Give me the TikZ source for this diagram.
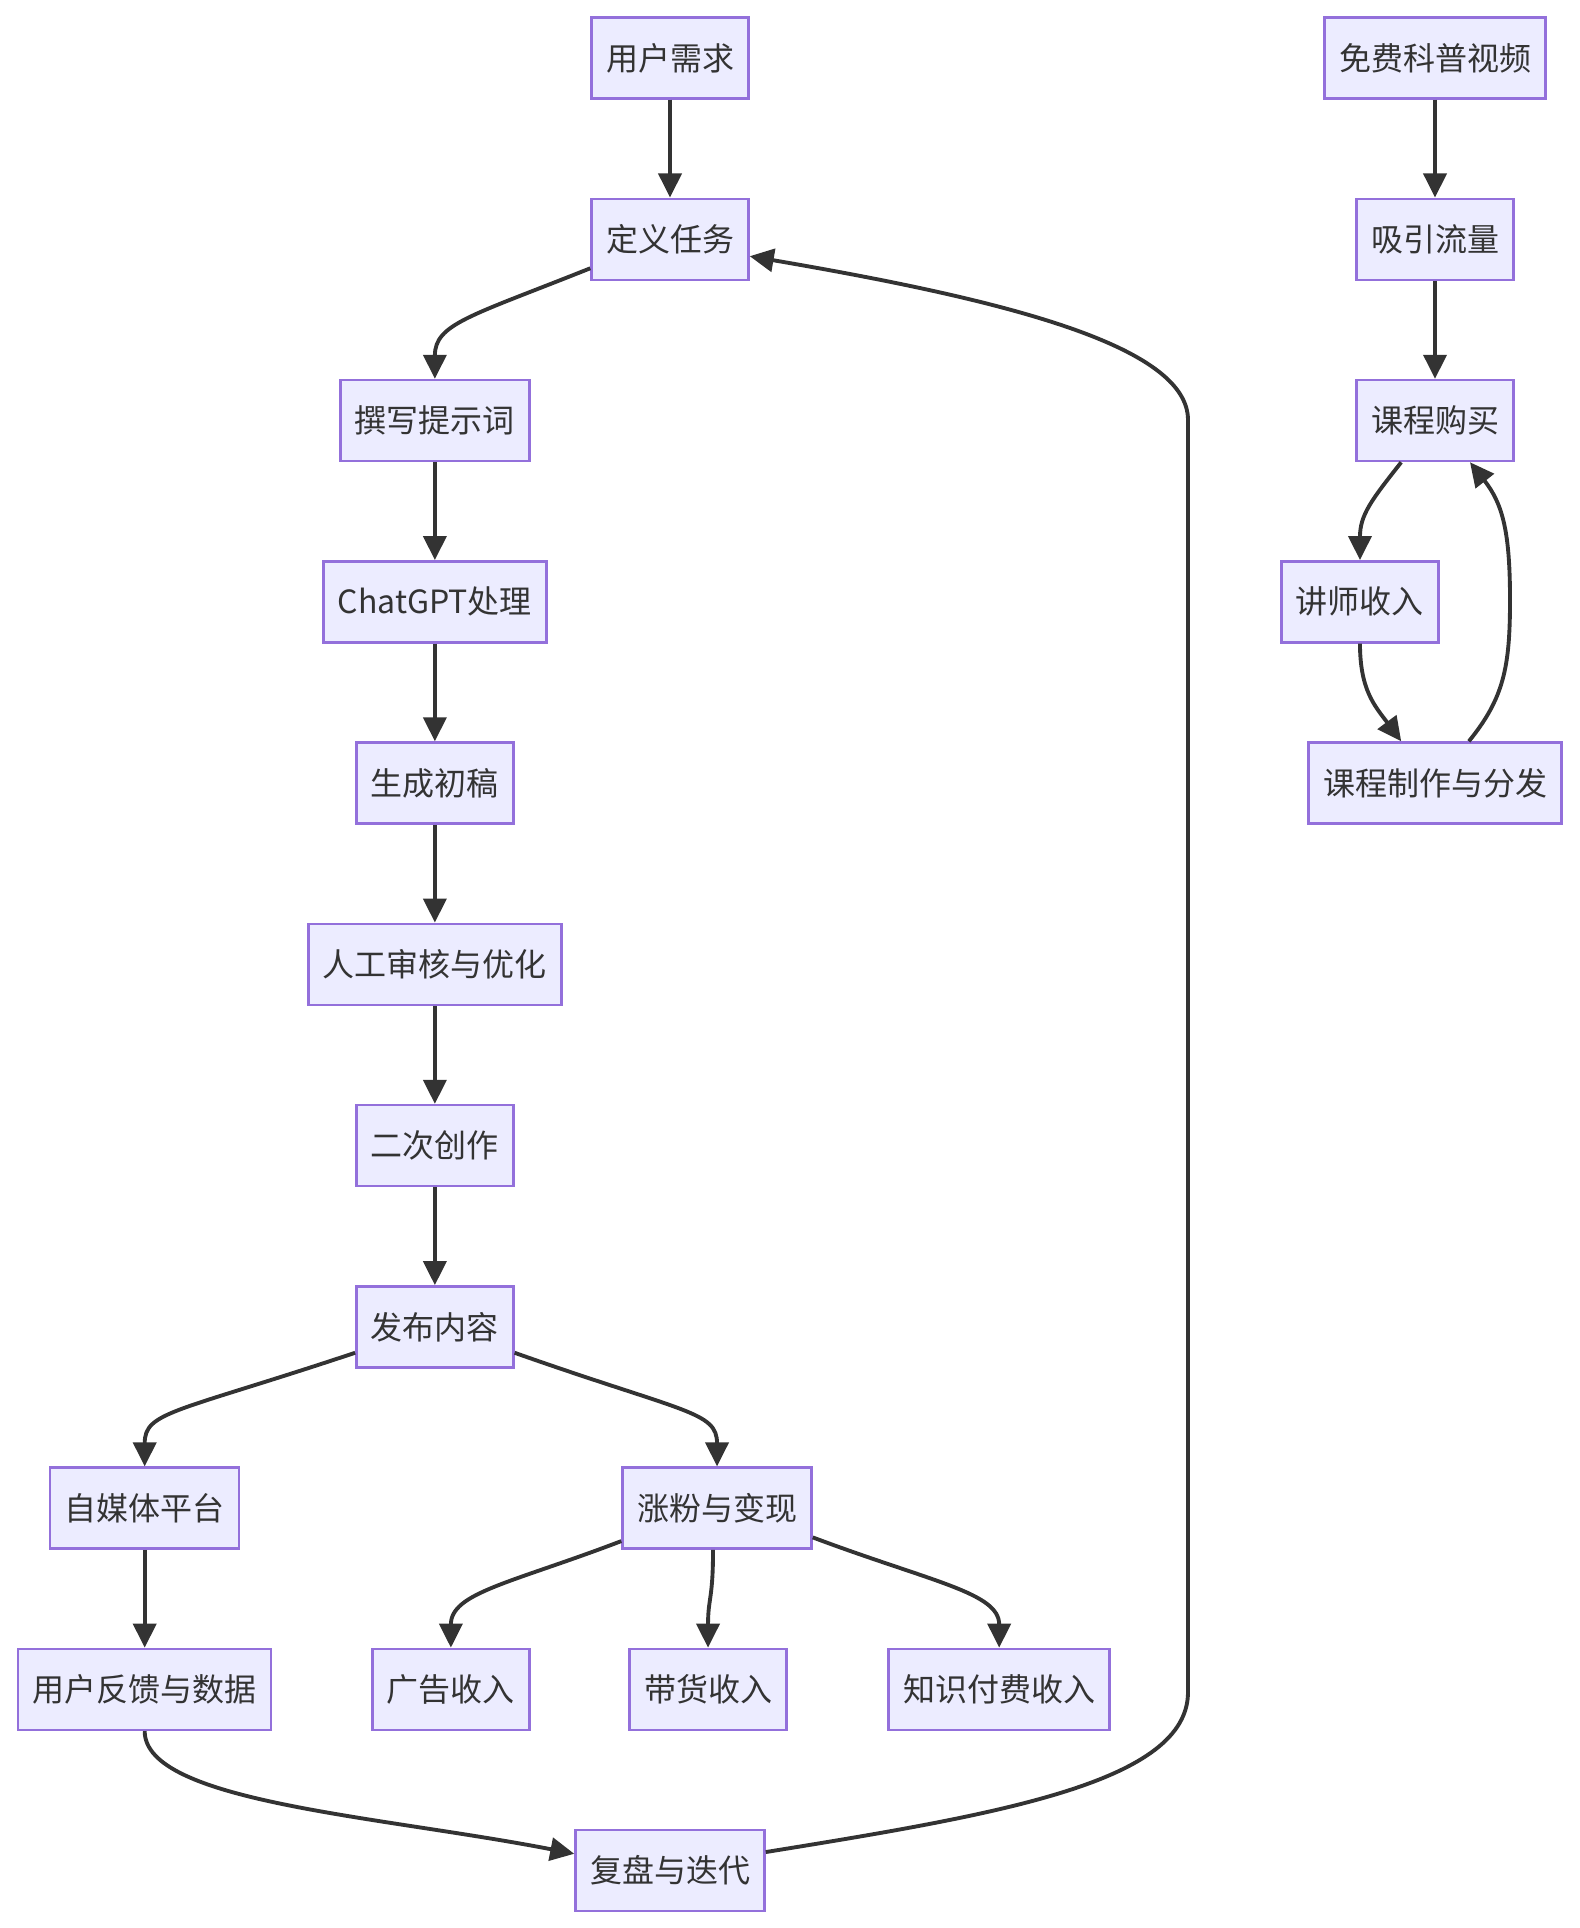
\documentclass[tikz,border=0pt]{standalone}
\usepackage{fontspec}
\setmainfont{Noto Sans CJK SC}
\usetikzlibrary{
    arrows.meta,
    positioning,
    calc
}
\definecolor{boxfill}{HTML}{ECECFF}
\definecolor{boxline}{HTML}{9370DB}
\definecolor{edgedark}{HTML}{333333}

\begin{document}
\begin{tikzpicture}[
        x=0.01cm, y=-0.01cm,
        node distance=0.977cm,
        block/.style={draw=boxline, fill=boxfill, line width=0.7pt, minimum height=0.81cm, inner xsep=0.145cm, text=edgedark, font=\fontsize{9.1pt}{11pt}\selectfont},
        arrow/.style={-{Triangle[length=0.24cm, width=0.23cm]}, line width=1.1pt, draw=edgedark}
    ]
        \useasboundingbox (0,0) rectangle (1580,1928);

        % Need
        \node[block] (need) at (670,58) {用户需求};

        % Task
        \node[block, below=of need] (task) {定义任务};

        % Main column
        \node[block, below=of task, xshift=-2.35cm] (prompt) {撰写提示词};
        \node[block, below=of prompt] (gpt) {ChatGPT处理};
        \node[block, below=of gpt] (draft) {生成初稿};
        \node[block, below=of draft] (review) {人工审核与优化};
        \node[block, below=of review] (rework) {二次创作};
        \node[block, below=of rework] (publish) {发布内容};

        % Platform
        \node[block, below=of publish, xshift=-2.9cm] (media) {自媒体平台};
        \node[block, below=of media] (feedback) {用户反馈与数据};

        % Monetize
        \node[block, below=of publish, xshift=2.82cm] (monetize) {涨粉与变现};
        \node[block, below=of monetize, xshift=-2.66cm] (ads) {广告收入};
        \node[block, below=of monetize, xshift=-0.09cm] (goods) {带货收入};
        \node[block, below=of monetize, xshift=2.82cm] (paid) {知识付费收入};

        % Retro
        \node[block, below=of feedback, xshift=5.25cm] (retro) {复盘与迭代};

        % Course
        \node[block] (video) at (1435,58) {免费科普视频};
        \node[block, below=of video] (traffic) {吸引流量};
        \node[block, below=of traffic] (buy) {课程购买};
        \node[block, below=of buy, xshift=-0.75cm] (lecturer) {讲师收入};
        \node[block, below=of lecturer, xshift=0.75cm] (course) {课程制作与分发};

        % Bends
        \coordinate (loopbot) at (1188,1692);
        \coordinate (looptop) at (1188,420);
        \coordinate (loopright) at (1510,600);

        % Arrows
        \draw[arrow] (need) -- (task);
        \draw[arrow] (task.200) .. controls +(-120,48) and +(0,-55) .. (prompt.north);
        \draw[arrow] (prompt) -- (gpt);
        \draw[arrow] (gpt) -- (draft);
        \draw[arrow] (draft) -- (review);
        \draw[arrow] (review) -- (rework);
        \draw[arrow] (rework) -- (publish);
        \draw[arrow] (publish.198) .. controls +(-180,60) and +(0,-55) .. (media.north);
        \draw[arrow] (publish.342) .. controls +(170,60) and +(0,-55) .. (monetize.north);
        \draw[arrow] (media) -- (feedback);
        \draw[arrow] (feedback.south) .. controls +(0,71) and +(-195,-38) .. (retro.170);
        \draw[arrow] (retro.11) .. controls +(235,-38) and +(0,90) .. (loopbot) -- (looptop) .. controls +(0,-75) and +(251,43) .. (task.348);
        \draw[arrow] (monetize.199) .. controls +(-110,42) and +(0,-55) .. (ads.north);
        \draw[arrow] ([xshift=-0.04cm]monetize.south) .. controls +(0,50) and +(0,-50) .. (goods.north);
        \draw[arrow] (monetize.343) .. controls +(120,45) and +(0,-55) .. (paid.north);
        \draw[arrow] (video) -- (traffic);
        \draw[arrow] (traffic) -- (buy);
        \draw[arrow] (buy.231) .. controls +(-30,38) and +(0,-45) .. (lecturer.north);
        \draw[arrow] (lecturer.south) .. controls +(0,47) and +(-26,-35) .. (course.129);
        \draw[arrow] (course.51) .. controls +(35,-43) and +(0,67) .. (loopright) .. controls +(0,-67) and +(33,42) .. (buy.310);

    \end{tikzpicture}
\end{document}
